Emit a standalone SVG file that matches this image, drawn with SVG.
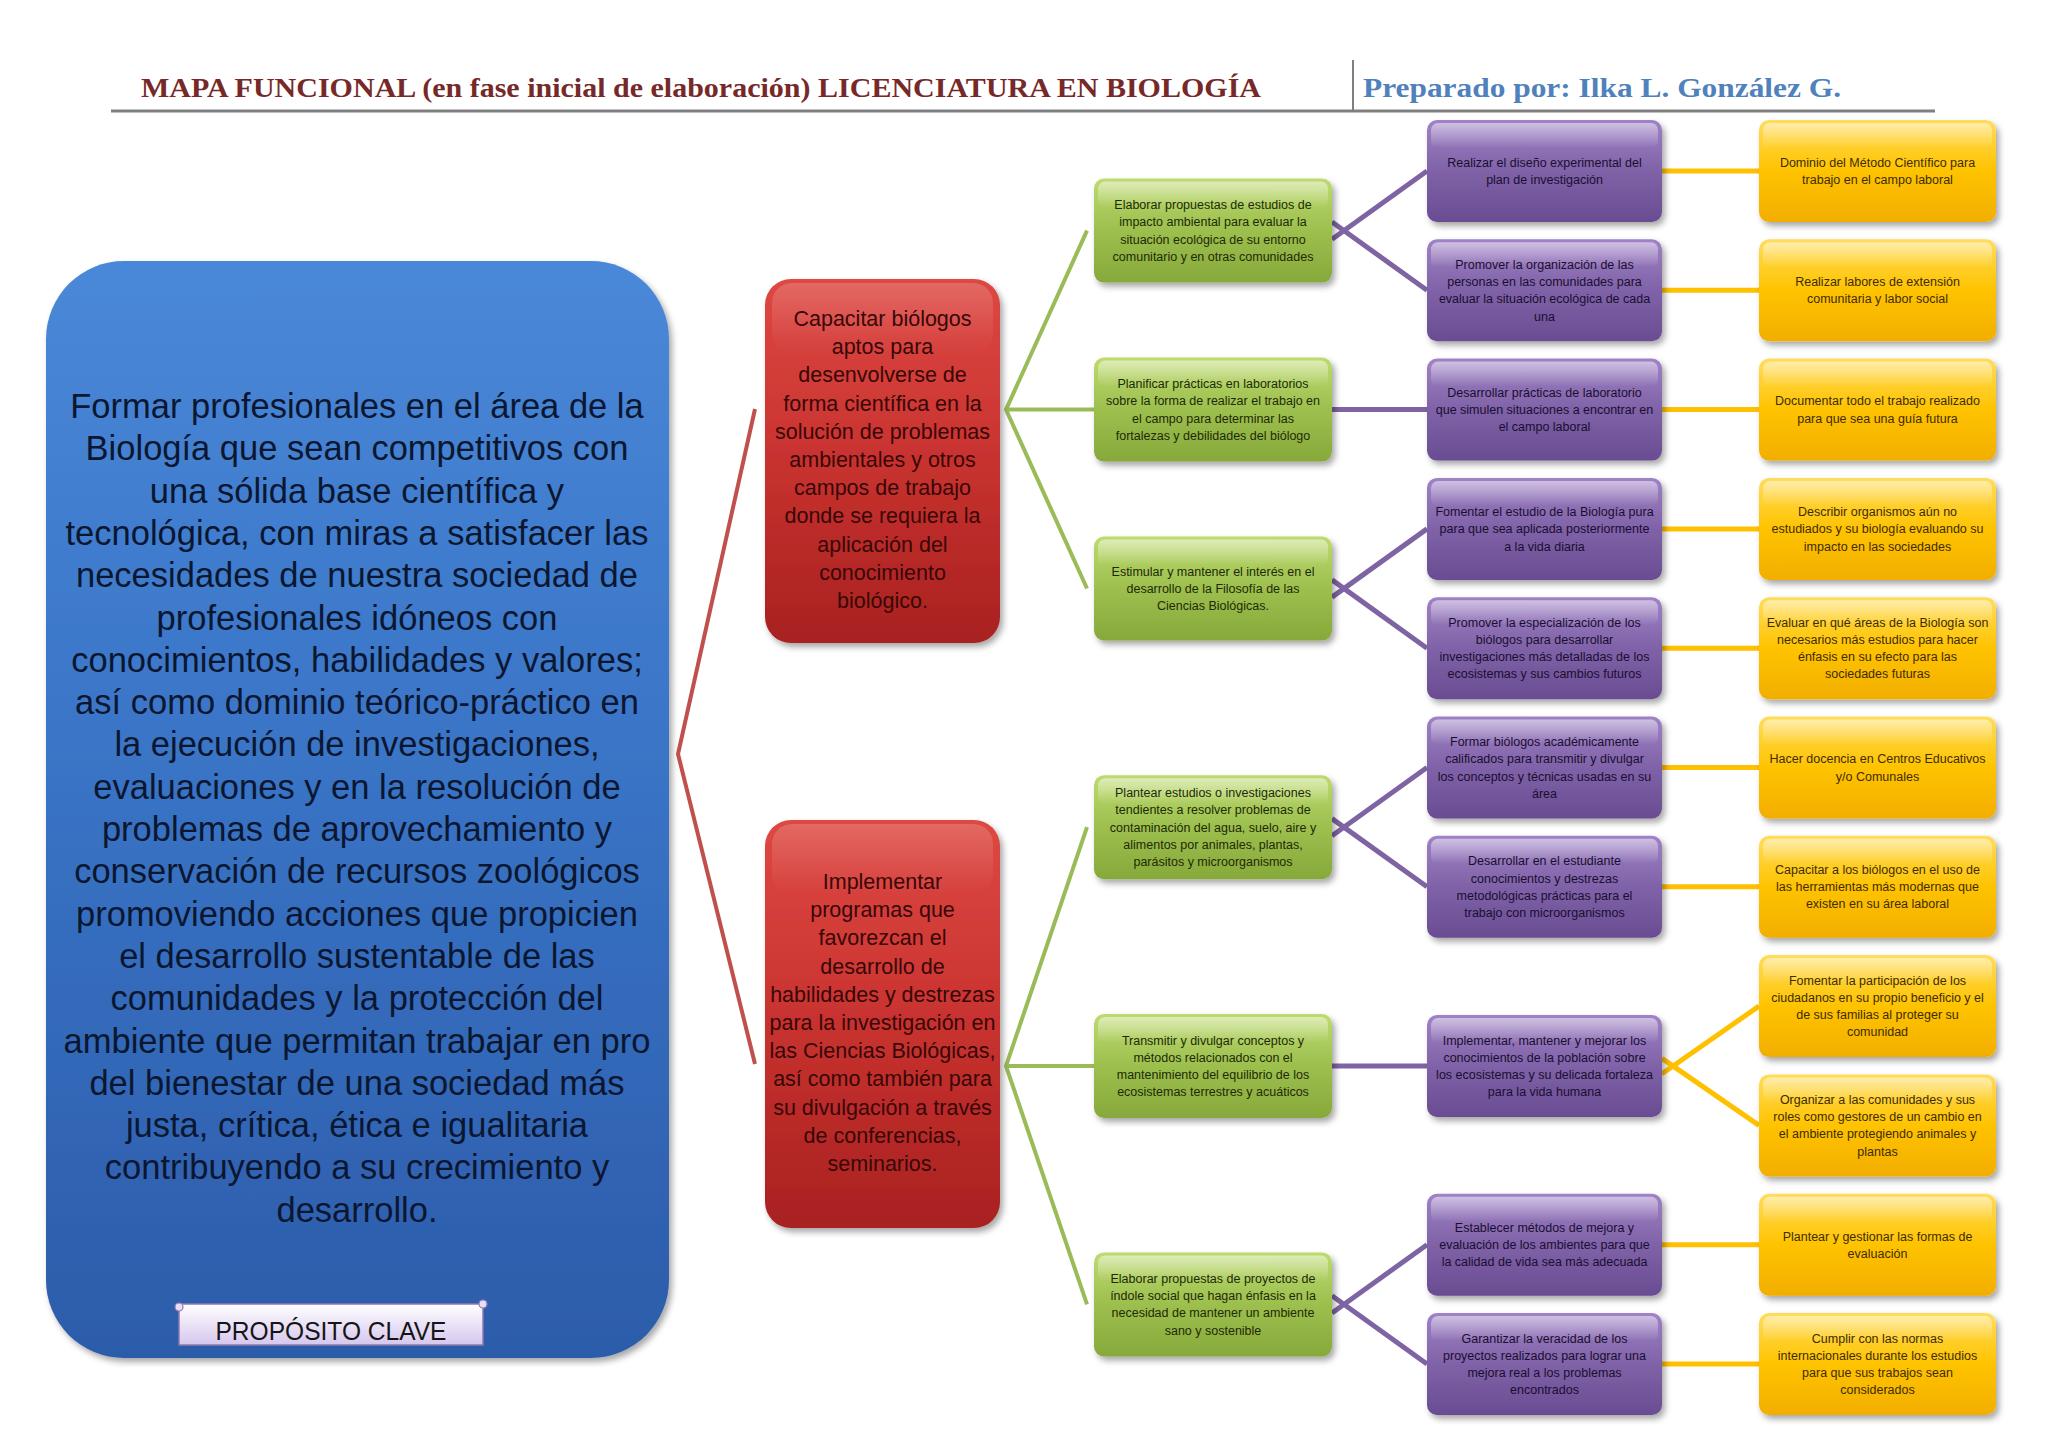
<svg xmlns="http://www.w3.org/2000/svg" width="2048" height="1448" viewBox="0 0 2048 1448">
<defs>
<linearGradient id="gBlue" x1="0" y1="0" x2="0" y2="1"><stop offset="0" stop-color="#4A88D8"/><stop offset="0.45" stop-color="#3A74C6"/><stop offset="1" stop-color="#2C5CAA"/></linearGradient>
<linearGradient id="gRed" x1="0" y1="0" x2="0" y2="1"><stop offset="0" stop-color="#DE4843"/><stop offset="0.5" stop-color="#C8322F"/><stop offset="1" stop-color="#A82120"/></linearGradient>
<linearGradient id="gGreen" x1="0" y1="0" x2="0" y2="1"><stop offset="0" stop-color="#BEDB70"/><stop offset="0.5" stop-color="#9CBF4E"/><stop offset="1" stop-color="#87A93B"/></linearGradient>
<linearGradient id="gPurple" x1="0" y1="0" x2="0" y2="1"><stop offset="0" stop-color="#A083C6"/><stop offset="0.5" stop-color="#7F62A7"/><stop offset="1" stop-color="#694C92"/></linearGradient>
<linearGradient id="gYellow" x1="0" y1="0" x2="0" y2="1"><stop offset="0" stop-color="#FFDD5C"/><stop offset="0.5" stop-color="#FFC300"/><stop offset="1" stop-color="#F2AE00"/></linearGradient>
<linearGradient id="gGloss" x1="0" y1="0" x2="0" y2="1"><stop offset="0" stop-color="#FFFFFF" stop-opacity="0.5"/><stop offset="1" stop-color="#FFFFFF" stop-opacity="0"/></linearGradient>
<linearGradient id="gLabel" x1="0" y1="0" x2="0" y2="1"><stop offset="0" stop-color="#FFFFFF"/><stop offset="1" stop-color="#D6C6EE"/></linearGradient>
<filter id="sh" x="-10%" y="-10%" width="125%" height="130%"><feDropShadow dx="3" dy="4" stdDeviation="3" flood-color="#000" flood-opacity="0.35"/></filter>
</defs>
<style>
.hdr{font-family:"Liberation Serif","DejaVu Serif",serif;font-weight:bold;font-size:28px}
.ts{font-family:"Liberation Sans",Arial,sans-serif;font-size:12.5px;text-anchor:middle}
.tg{fill:#1E2A06}.tp{fill:#1A0E30}.ty{fill:#3E2C00}
.tr{font-family:"Liberation Sans",Arial,sans-serif;font-size:21.5px;fill:#380808;text-anchor:middle}
.tb{font-family:"Liberation Sans",Arial,sans-serif;font-size:34.5px;fill:#0B1730;text-anchor:middle}
.cr{stroke:#C0504D;stroke-width:4;fill:none}
.cg{stroke:#9BBB59;stroke-width:4;fill:none}
.cp{stroke:#7F64A3;stroke-width:5;fill:none}
.cy{stroke:#FFC000;stroke-width:5;fill:none}
.gloss{fill:url(#gGloss)}
</style>
<rect width="2048" height="1448" fill="#FFFFFF"/>
<g id="header">
<text class="hdr" x="141" y="97" fill="#772828" textLength="1120" lengthAdjust="spacingAndGlyphs">MAPA FUNCIONAL (en fase inicial de elaboración) LICENCIATURA EN BIOLOGÍA</text>
<text class="hdr" x="1363" y="97" fill="#4F81BD" textLength="478" lengthAdjust="spacingAndGlyphs">Preparado por: Ilka L. González G.</text>
<line x1="1353" y1="60" x2="1353" y2="111" stroke="#7F7F7F" stroke-width="2"/>
<line x1="111" y1="111" x2="1935" y2="111" stroke="#7F7F7F" stroke-width="3"/>
</g>
<g id="connectors">
<path class="cr" d="M755,409 L678,754 L755,1064"/>
<path class="cg" d="M1087,230.6 L1006,409.6 L1087,588.5 M1006,409.6 L1094,409.6"/>
<path class="cg" d="M1087,827.2 L1006,1066 L1087,1304.4 M1006,1066 L1094,1066"/>
<path class="cp" d="M1332,239.2 L1427,171 M1332,222 L1427,290.3"/>
<path class="cp" d="M1332,409.6 L1427,409.6"/>
<path class="cp" d="M1332,597.1 L1427,528.9 M1332,579.9 L1427,648.2"/>
<path class="cp" d="M1332,835.8 L1427,767.5 M1332,818.6 L1427,886.8"/>
<path class="cp" d="M1332,1066 L1427,1066"/>
<path class="cp" d="M1332,1313 L1427,1244.7 M1332,1295.8 L1427,1364"/>
<path class="cy" d="M1662,171 H1759 M1662,290.3 H1759 M1662,409.6 H1759 M1662,528.9 H1759 M1662,648.2 H1759 M1662,767.5 H1759 M1662,886.8 H1759 M1662,1244.7 H1759 M1662,1364 H1759"/>
<path class="cy" d="M1662,1073.7 L1759,1006.1 M1662,1058.4 L1759,1125.4"/>
</g>
<g id="proposito-clave">
<rect x="46" y="261" width="623" height="1097" rx="78" fill="url(#gBlue)" filter="url(#sh)"/>
<text class="tb" x="357" y="418"><tspan x="357">Formar  profesionales en el área de la</tspan><tspan x="357" dy="42.3">Biología que sean  competitivos con</tspan><tspan x="357" dy="42.3">una sólida base científica y</tspan><tspan x="357" dy="42.3">tecnológica, con miras a satisfacer las</tspan><tspan x="357" dy="42.3">necesidades de nuestra sociedad de</tspan><tspan x="357" dy="42.3">profesionales idóneos con</tspan><tspan x="357" dy="42.3">conocimientos, habilidades y valores;</tspan><tspan x="357" dy="42.3">así como dominio teórico-práctico en</tspan><tspan x="357" dy="42.3">la ejecución de investigaciones,</tspan><tspan x="357" dy="42.3">evaluaciones y en la resolución de</tspan><tspan x="357" dy="42.3">problemas de aprovechamiento y</tspan><tspan x="357" dy="42.3">conservación de recursos zoológicos</tspan><tspan x="357" dy="42.3">promoviendo acciones que propicien</tspan><tspan x="357" dy="42.3">el desarrollo sustentable de las</tspan><tspan x="357" dy="42.3">comunidades y la protección del</tspan><tspan x="357" dy="42.3">ambiente que permitan trabajar en pro</tspan><tspan x="357" dy="42.3">del bienestar de una sociedad más</tspan><tspan x="357" dy="42.3">justa, crítica, ética e igualitaria</tspan><tspan x="357" dy="42.3">contribuyendo a su crecimiento y</tspan><tspan x="357" dy="42.3">desarrollo.</tspan></text>
<g id="label-proposito">
<rect x="179" y="1304" width="304" height="41" fill="url(#gLabel)" stroke="#8E7AAE" stroke-width="1.5"/>
<circle cx="483" cy="1304" r="4" fill="#E8DDF6" stroke="#8E7AAE" stroke-width="1.2"/>
<circle cx="179" cy="1307" r="4" fill="#E8DDF6" stroke="#8E7AAE" stroke-width="1.2"/>
<text x="331" y="1340" font-family="'Liberation Sans',Arial,sans-serif" font-size="25" fill="#151515" text-anchor="middle" textLength="231" lengthAdjust="spacingAndGlyphs">PROPÓSITO CLAVE</text>
</g>
</g>
<g id="red-1">
<rect x="765" y="279" width="235" height="364" rx="26" fill="url(#gRed)" filter="url(#sh)"/>
<rect x="772" y="283" width="221" height="70" rx="20" class="gloss" opacity="0.35"/>
<text class="tr" x="882.5" y="326"><tspan x="882.5">Capacitar biólogos</tspan><tspan x="882.5" dy="28.2">aptos para</tspan><tspan x="882.5" dy="28.2">desenvolverse de</tspan><tspan x="882.5" dy="28.2">forma científica en la</tspan><tspan x="882.5" dy="28.2">solución de problemas</tspan><tspan x="882.5" dy="28.2">ambientales y otros</tspan><tspan x="882.5" dy="28.2">campos de trabajo</tspan><tspan x="882.5" dy="28.2">donde se requiera la</tspan><tspan x="882.5" dy="28.2">aplicación del</tspan><tspan x="882.5" dy="28.2">conocimiento</tspan><tspan x="882.5" dy="28.2">biológico.</tspan></text>
</g>
<g id="red-2">
<rect x="765" y="820" width="235" height="408" rx="26" fill="url(#gRed)" filter="url(#sh)"/>
<rect x="772" y="824" width="221" height="70" rx="20" class="gloss" opacity="0.35"/>
<text class="tr" x="882.5" y="889"><tspan x="882.5">Implementar</tspan><tspan x="882.5" dy="28.2">programas que</tspan><tspan x="882.5" dy="28.2">favorezcan el</tspan><tspan x="882.5" dy="28.2">desarrollo de</tspan><tspan x="882.5" dy="28.2">habilidades y destrezas</tspan><tspan x="882.5" dy="28.2">para la investigación en</tspan><tspan x="882.5" dy="28.2">las Ciencias Biológicas,</tspan><tspan x="882.5" dy="28.2">así como también para</tspan><tspan x="882.5" dy="28.2">su divulgación a través</tspan><tspan x="882.5" dy="28.2">de conferencias,</tspan><tspan x="882.5" dy="28.2">seminarios.</tspan></text>
</g>
<g id="green-1">
<rect x="1094" y="178.6" width="238" height="104" rx="10" fill="url(#gGreen)" filter="url(#sh)"/>
<rect x="1098" y="181.6" width="230" height="26" rx="7" class="gloss"/>
<text class="ts tg" x="1213" y="209.2"><tspan x="1213">Elaborar propuestas de estudios de</tspan><tspan x="1213" dy="17.2">impacto ambiental para evaluar la</tspan><tspan x="1213" dy="17.2">situación ecológica de su entorno</tspan><tspan x="1213" dy="17.2">comunitario y en otras comunidades</tspan></text>
</g>
<g id="green-2">
<rect x="1094" y="357.6" width="238" height="104" rx="10" fill="url(#gGreen)" filter="url(#sh)"/>
<rect x="1098" y="360.6" width="230" height="26" rx="7" class="gloss"/>
<text class="ts tg" x="1213" y="388.2"><tspan x="1213">Planificar prácticas en laboratorios</tspan><tspan x="1213" dy="17.2">sobre la forma de realizar el trabajo en</tspan><tspan x="1213" dy="17.2">el campo para determinar las</tspan><tspan x="1213" dy="17.2">fortalezas y debilidades del biólogo</tspan></text>
</g>
<g id="green-3">
<rect x="1094" y="536.5" width="238" height="104" rx="10" fill="url(#gGreen)" filter="url(#sh)"/>
<rect x="1098" y="539.5" width="230" height="26" rx="7" class="gloss"/>
<text class="ts tg" x="1213" y="575.7"><tspan x="1213">Estimular y mantener el interés en el</tspan><tspan x="1213" dy="17.2">desarrollo de la Filosofía de las</tspan><tspan x="1213" dy="17.2">Ciencias Biológicas.</tspan></text>
</g>
<g id="green-4">
<rect x="1094" y="775.2" width="238" height="104" rx="10" fill="url(#gGreen)" filter="url(#sh)"/>
<rect x="1098" y="778.2" width="230" height="26" rx="7" class="gloss"/>
<text class="ts tg" x="1213" y="797.2"><tspan x="1213">Plantear estudios o investigaciones</tspan><tspan x="1213" dy="17.2">tendientes a resolver problemas de</tspan><tspan x="1213" dy="17.2">contaminación del agua, suelo, aire y</tspan><tspan x="1213" dy="17.2">alimentos por animales, plantas,</tspan><tspan x="1213" dy="17.2">parásitos y microorganismos</tspan></text>
</g>
<g id="green-5">
<rect x="1094" y="1014" width="238" height="104" rx="10" fill="url(#gGreen)" filter="url(#sh)"/>
<rect x="1098" y="1017" width="230" height="26" rx="7" class="gloss"/>
<text class="ts tg" x="1213" y="1044.6"><tspan x="1213">Transmitir y divulgar conceptos y</tspan><tspan x="1213" dy="17.2">métodos relacionados con el</tspan><tspan x="1213" dy="17.2">mantenimiento del equilibrio de los</tspan><tspan x="1213" dy="17.2">ecosistemas terrestres y acuáticos</tspan></text>
</g>
<g id="green-6">
<rect x="1094" y="1252.4" width="238" height="104" rx="10" fill="url(#gGreen)" filter="url(#sh)"/>
<rect x="1098" y="1255.4" width="230" height="26" rx="7" class="gloss"/>
<text class="ts tg" x="1213" y="1283"><tspan x="1213">Elaborar propuestas de proyectos de</tspan><tspan x="1213" dy="17.2">índole social que hagan énfasis en la</tspan><tspan x="1213" dy="17.2">necesidad de mantener un ambiente</tspan><tspan x="1213" dy="17.2">sano y sostenible</tspan></text>
</g>
<g id="purple-1">
<rect x="1427" y="120" width="235" height="102" rx="10" fill="url(#gPurple)" filter="url(#sh)"/>
<rect x="1431" y="123" width="227" height="25" rx="7" class="gloss"/>
<text class="ts tp" x="1544.5" y="166.8"><tspan x="1544.5">Realizar el diseño experimental del</tspan><tspan x="1544.5" dy="17.2">plan de investigación</tspan></text>
</g>
<g id="purple-2">
<rect x="1427" y="239.3" width="235" height="102" rx="10" fill="url(#gPurple)" filter="url(#sh)"/>
<rect x="1431" y="242.3" width="227" height="25" rx="7" class="gloss"/>
<text class="ts tp" x="1544.5" y="268.9"><tspan x="1544.5">Promover la organización de las</tspan><tspan x="1544.5" dy="17.2">personas en las comunidades para</tspan><tspan x="1544.5" dy="17.2">evaluar la situación ecológica de cada</tspan><tspan x="1544.5" dy="17.2">una</tspan></text>
</g>
<g id="purple-3">
<rect x="1427" y="358.6" width="235" height="102" rx="10" fill="url(#gPurple)" filter="url(#sh)"/>
<rect x="1431" y="361.6" width="227" height="25" rx="7" class="gloss"/>
<text class="ts tp" x="1544.5" y="396.8"><tspan x="1544.5">Desarrollar prácticas de laboratorio</tspan><tspan x="1544.5" dy="17.2">que simulen situaciones a encontrar en</tspan><tspan x="1544.5" dy="17.2">el campo laboral</tspan></text>
</g>
<g id="purple-4">
<rect x="1427" y="477.9" width="235" height="102" rx="10" fill="url(#gPurple)" filter="url(#sh)"/>
<rect x="1431" y="480.9" width="227" height="25" rx="7" class="gloss"/>
<text class="ts tp" x="1544.5" y="516.1"><tspan x="1544.5">Fomentar el estudio de la Biología pura</tspan><tspan x="1544.5" dy="17.2">para que sea aplicada posteriormente</tspan><tspan x="1544.5" dy="17.2">a la vida diaria</tspan></text>
</g>
<g id="purple-5">
<rect x="1427" y="597.2" width="235" height="102" rx="10" fill="url(#gPurple)" filter="url(#sh)"/>
<rect x="1431" y="600.2" width="227" height="25" rx="7" class="gloss"/>
<text class="ts tp" x="1544.5" y="626.8"><tspan x="1544.5">Promover la especialización de los</tspan><tspan x="1544.5" dy="17.2">biólogos para desarrollar</tspan><tspan x="1544.5" dy="17.2">investigaciones más detalladas de los</tspan><tspan x="1544.5" dy="17.2">ecosistemas y sus cambios futuros</tspan></text>
</g>
<g id="purple-6">
<rect x="1427" y="716.5" width="235" height="102" rx="10" fill="url(#gPurple)" filter="url(#sh)"/>
<rect x="1431" y="719.5" width="227" height="25" rx="7" class="gloss"/>
<text class="ts tp" x="1544.5" y="746.1"><tspan x="1544.5">Formar biólogos académicamente</tspan><tspan x="1544.5" dy="17.2">calificados para transmitir y divulgar</tspan><tspan x="1544.5" dy="17.2">los conceptos y técnicas usadas en su</tspan><tspan x="1544.5" dy="17.2">área</tspan></text>
</g>
<g id="purple-7">
<rect x="1427" y="835.8" width="235" height="102" rx="10" fill="url(#gPurple)" filter="url(#sh)"/>
<rect x="1431" y="838.8" width="227" height="25" rx="7" class="gloss"/>
<text class="ts tp" x="1544.5" y="865.4"><tspan x="1544.5">Desarrollar en el estudiante</tspan><tspan x="1544.5" dy="17.2">conocimientos y destrezas</tspan><tspan x="1544.5" dy="17.2">metodológicas prácticas para el</tspan><tspan x="1544.5" dy="17.2">trabajo con microorganismos</tspan></text>
</g>
<g id="purple-8">
<rect x="1427" y="1015" width="235" height="102" rx="10" fill="url(#gPurple)" filter="url(#sh)"/>
<rect x="1431" y="1018" width="227" height="25" rx="7" class="gloss"/>
<text class="ts tp" x="1544.5" y="1044.6"><tspan x="1544.5">Implementar, mantener y mejorar los</tspan><tspan x="1544.5" dy="17.2">conocimientos de la población sobre</tspan><tspan x="1544.5" dy="17.2">los ecosistemas y su delicada fortaleza</tspan><tspan x="1544.5" dy="17.2">para la vida humana</tspan></text>
</g>
<g id="purple-9">
<rect x="1427" y="1193.7" width="235" height="102" rx="10" fill="url(#gPurple)" filter="url(#sh)"/>
<rect x="1431" y="1196.7" width="227" height="25" rx="7" class="gloss"/>
<text class="ts tp" x="1544.5" y="1231.9"><tspan x="1544.5">Establecer métodos de mejora y</tspan><tspan x="1544.5" dy="17.2">evaluación de los ambientes para que</tspan><tspan x="1544.5" dy="17.2">la calidad de vida sea más adecuada</tspan></text>
</g>
<g id="purple-10">
<rect x="1427" y="1313" width="235" height="102" rx="10" fill="url(#gPurple)" filter="url(#sh)"/>
<rect x="1431" y="1316" width="227" height="25" rx="7" class="gloss"/>
<text class="ts tp" x="1544.5" y="1342.6"><tspan x="1544.5">Garantizar la veracidad de los</tspan><tspan x="1544.5" dy="17.2">proyectos realizados para lograr una</tspan><tspan x="1544.5" dy="17.2">mejora real a los problemas</tspan><tspan x="1544.5" dy="17.2">encontrados</tspan></text>
</g>
<g id="yellow-1">
<rect x="1759" y="120" width="237" height="102" rx="10" fill="url(#gYellow)" filter="url(#sh)"/>
<rect x="1763" y="123" width="229" height="25" rx="7" class="gloss"/>
<text class="ts ty" x="1877.5" y="166.8"><tspan x="1877.5">Dominio del Método Científico para</tspan><tspan x="1877.5" dy="17.2">trabajo en el campo laboral</tspan></text>
</g>
<g id="yellow-2">
<rect x="1759" y="239.3" width="237" height="102" rx="10" fill="url(#gYellow)" filter="url(#sh)"/>
<rect x="1763" y="242.3" width="229" height="25" rx="7" class="gloss"/>
<text class="ts ty" x="1877.5" y="286.1"><tspan x="1877.5">Realizar labores de extensión</tspan><tspan x="1877.5" dy="17.2">comunitaria y labor social</tspan></text>
</g>
<g id="yellow-3">
<rect x="1759" y="358.6" width="237" height="102" rx="10" fill="url(#gYellow)" filter="url(#sh)"/>
<rect x="1763" y="361.6" width="229" height="25" rx="7" class="gloss"/>
<text class="ts ty" x="1877.5" y="405.4"><tspan x="1877.5">Documentar todo el trabajo realizado</tspan><tspan x="1877.5" dy="17.2">para que sea una guía futura</tspan></text>
</g>
<g id="yellow-4">
<rect x="1759" y="477.9" width="237" height="102" rx="10" fill="url(#gYellow)" filter="url(#sh)"/>
<rect x="1763" y="480.9" width="229" height="25" rx="7" class="gloss"/>
<text class="ts ty" x="1877.5" y="516.1"><tspan x="1877.5">Describir organismos aún no</tspan><tspan x="1877.5" dy="17.2">estudiados y su biología evaluando su</tspan><tspan x="1877.5" dy="17.2">impacto en las sociedades</tspan></text>
</g>
<g id="yellow-5">
<rect x="1759" y="597.2" width="237" height="102" rx="10" fill="url(#gYellow)" filter="url(#sh)"/>
<rect x="1763" y="600.2" width="229" height="25" rx="7" class="gloss"/>
<text class="ts ty" x="1877.5" y="626.8"><tspan x="1877.5">Evaluar en qué áreas de la Biología son</tspan><tspan x="1877.5" dy="17.2">necesarios más estudios para hacer</tspan><tspan x="1877.5" dy="17.2">énfasis en su efecto para las</tspan><tspan x="1877.5" dy="17.2">sociedades futuras</tspan></text>
</g>
<g id="yellow-6">
<rect x="1759" y="716.5" width="237" height="102" rx="10" fill="url(#gYellow)" filter="url(#sh)"/>
<rect x="1763" y="719.5" width="229" height="25" rx="7" class="gloss"/>
<text class="ts ty" x="1877.5" y="763.3"><tspan x="1877.5">Hacer docencia en Centros Educativos</tspan><tspan x="1877.5" dy="17.2">y/o Comunales</tspan></text>
</g>
<g id="yellow-7">
<rect x="1759" y="835.8" width="237" height="102" rx="10" fill="url(#gYellow)" filter="url(#sh)"/>
<rect x="1763" y="838.8" width="229" height="25" rx="7" class="gloss"/>
<text class="ts ty" x="1877.5" y="874"><tspan x="1877.5">Capacitar a los biólogos en el uso de</tspan><tspan x="1877.5" dy="17.2">las herramientas más modernas que</tspan><tspan x="1877.5" dy="17.2">existen en su área laboral</tspan></text>
</g>
<g id="yellow-8">
<rect x="1759" y="955.1" width="237" height="102" rx="10" fill="url(#gYellow)" filter="url(#sh)"/>
<rect x="1763" y="958.1" width="229" height="25" rx="7" class="gloss"/>
<text class="ts ty" x="1877.5" y="984.7"><tspan x="1877.5">Fomentar la participación de los</tspan><tspan x="1877.5" dy="17.2">ciudadanos en su propio beneficio y el</tspan><tspan x="1877.5" dy="17.2">de sus familias al proteger su</tspan><tspan x="1877.5" dy="17.2">comunidad</tspan></text>
</g>
<g id="yellow-9">
<rect x="1759" y="1074.4" width="237" height="102" rx="10" fill="url(#gYellow)" filter="url(#sh)"/>
<rect x="1763" y="1077.4" width="229" height="25" rx="7" class="gloss"/>
<text class="ts ty" x="1877.5" y="1104"><tspan x="1877.5">Organizar a las comunidades y sus</tspan><tspan x="1877.5" dy="17.2">roles como gestores de un cambio en</tspan><tspan x="1877.5" dy="17.2">el ambiente protegiendo animales y</tspan><tspan x="1877.5" dy="17.2">plantas</tspan></text>
</g>
<g id="yellow-10">
<rect x="1759" y="1193.7" width="237" height="102" rx="10" fill="url(#gYellow)" filter="url(#sh)"/>
<rect x="1763" y="1196.7" width="229" height="25" rx="7" class="gloss"/>
<text class="ts ty" x="1877.5" y="1240.5"><tspan x="1877.5">Plantear y gestionar las formas de</tspan><tspan x="1877.5" dy="17.2">evaluación</tspan></text>
</g>
<g id="yellow-11">
<rect x="1759" y="1313" width="237" height="102" rx="10" fill="url(#gYellow)" filter="url(#sh)"/>
<rect x="1763" y="1316" width="229" height="25" rx="7" class="gloss"/>
<text class="ts ty" x="1877.5" y="1342.6"><tspan x="1877.5">Cumplir con las normas</tspan><tspan x="1877.5" dy="17.2">internacionales durante los estudios</tspan><tspan x="1877.5" dy="17.2">para que sus trabajos sean</tspan><tspan x="1877.5" dy="17.2">considerados</tspan></text>
</g>
</svg>
